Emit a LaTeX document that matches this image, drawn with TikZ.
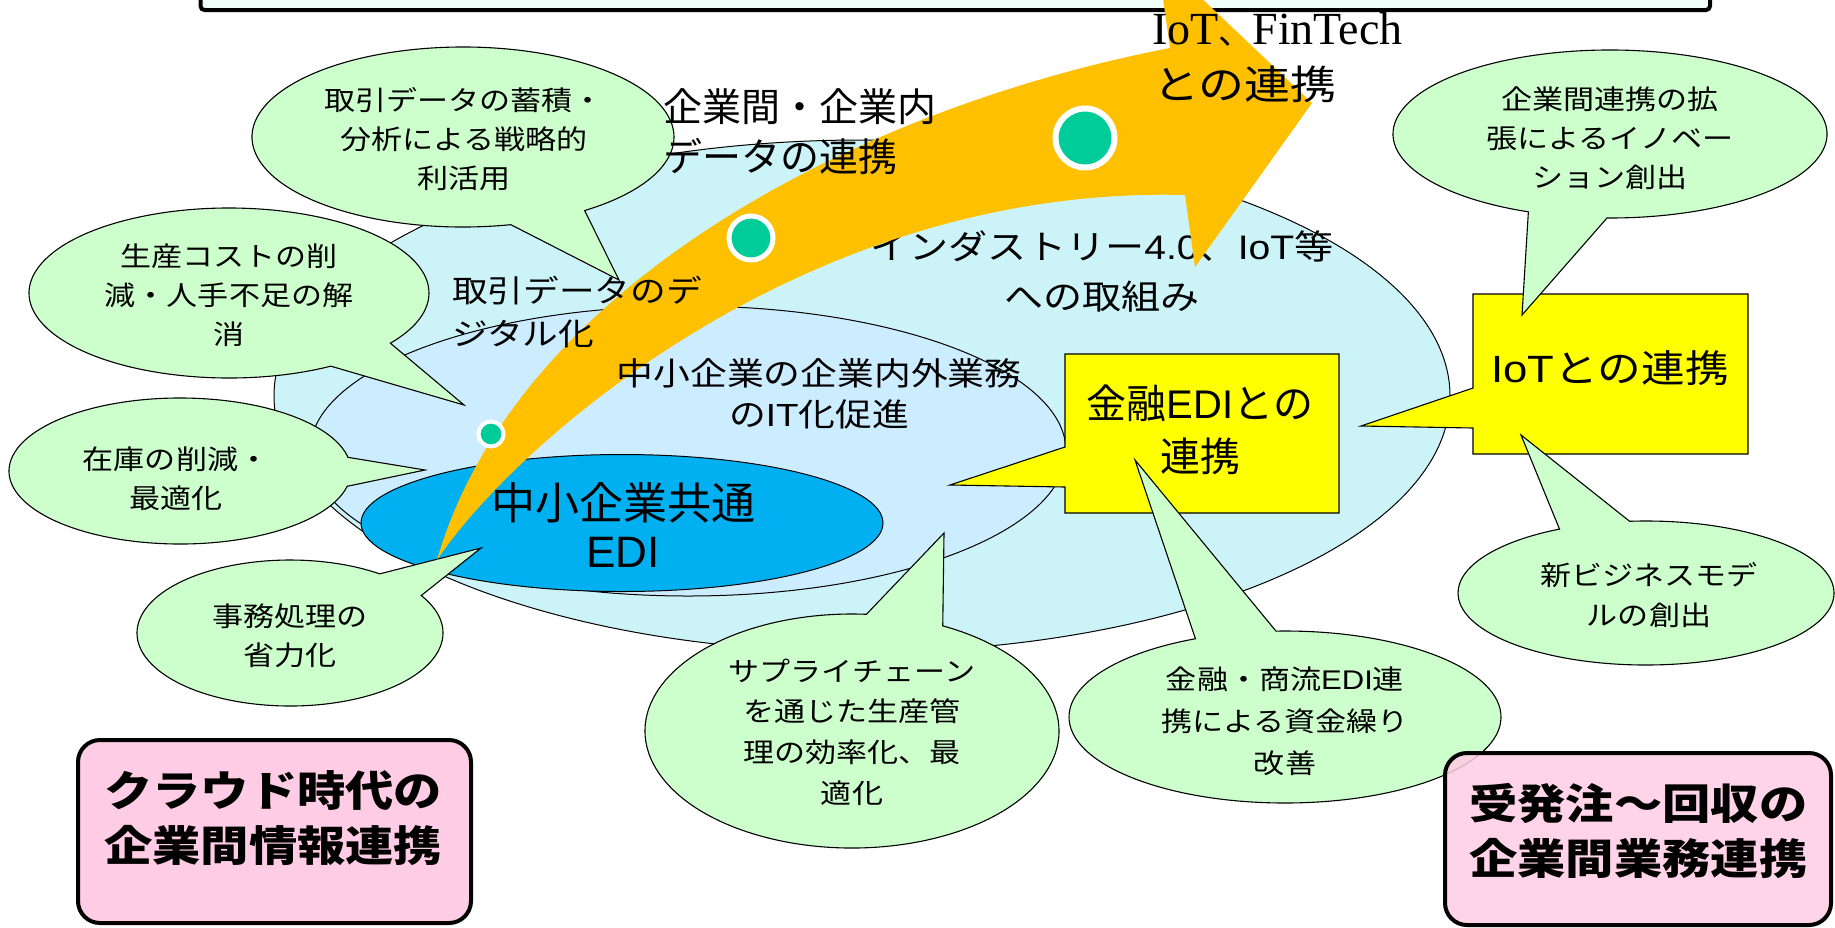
\documentclass[tikz,border=0pt]{standalone}
\usepackage{fontspec}
\setmainfont{Noto Sans CJK JP}[FakeStretch=1.15]
\newfontfamily\jpn{Noto Sans CJK JP}
\newfontfamily\las{Liberation Sans}[FakeStretch=1.15]
\newfontfamily\lan{Liberation Sans}
\newfontfamily\ser{Liberation Serif}
\usetikzlibrary{calc}
\definecolor{outerc}{RGB}{204,244,248}
\definecolor{midc}{RGB}{204,236,255}
\definecolor{edic}{RGB}{0,176,240}
\definecolor{bubc}{RGB}{204,255,204}
\definecolor{yelc}{RGB}{255,255,0}
\definecolor{pinkc}{RGB}{255,204,229}
\definecolor{arrc}{RGB}{255,192,0}
\definecolor{dotc}{RGB}{0,204,153}
\definecolor{topc}{RGB}{240,255,250}
\tikzset{
  ell/.style={draw=black, line width=1pt},
  bub/.style={draw=black, line width=1.1pt, fill=bubc},
  callout/.style={draw=black, line width=1.1pt, fill=yelc},
  pinkbox/.style={draw=black, line width=4pt, fill=pinkc, rounded corners=22pt},
  dotst/.style={fill=dotc, draw=white},
  lbl/.style={inner sep=0pt, align=center, text=black},
  bubtxt/.style={lbl, font=\fontsize{27}{39}\selectfont},
  pinktxt/.style={inner sep=0pt, align=left, anchor=west, font=\bfseries\fontsize{42}{55}\selectfont},
}
\newcommand\bubble[8]{\draw[bub] (#7,#8) -- ($(#1,#2)+(#5:#3 and #4)$) arc[start angle=#5,end angle=#6,x radius=#3,y radius=#4] -- cycle;}
\begin{document}
\begin{tikzpicture}[x=1pt,y=-1pt]
\useasboundingbox (0,0) rectangle (1835,927);
\fill[white] (0,0) rectangle (1835,927);
% top box
\draw[line width=4pt, fill=topc, rounded corners=4pt] (200.5,-40) rectangle (1710,10);
% ellipses
\draw[ell, fill=outerc] (862,396) ellipse[x radius=588, y radius=256];
\draw[ell, fill=midc] (688,451) ellipse[x radius=378, y radius=145];
\draw[ell, fill=edic] (622,523) ellipse[x radius=261, y radius=68.5];
% yellow callouts
\draw[callout] (1473,294) -- (1748,294) -- (1748,454) -- (1473,454) -- (1473,428) -- (1361,426) -- (1473,388) -- cycle;
\draw[callout] (1065,354) -- (1339,354) -- (1339,513) -- (1065,513) -- (1065,487) -- (950,485) -- (1065,447) -- cycle;
% bubbles
\bubble{463}{137}{211}{90}{76.9}{414.8}{619}{280}
\bubble{229}{293}{200}{85}{59.4}{396.2}{464}{405}
\bubble{180}{471}{171}{73}{12.1}{349.2}{425}{470}
\bubble{290}{633}{153}{73}{-30.9}{305.9}{481}{548}
\bubble{852}{731}{207}{117}{-64}{274}{944}{533}
\bubble{1285}{717}{216}{86}{267.6}{605.5}{1135}{460}
\bubble{1646}{593}{188}{72}{265}{602.6}{1521}{435}
\bubble{1610}{134}{217}{84}{112.1}{450.8}{1522}{315}
% text under the arrow
\node[lbl, font=\fontsize{34}{50}\selectfont] (tInd) at (1102,272) {インダストリー{\las 4.0}、{\las IoT}等\\への取組み};
% arrow
\fill[arrc] (437,560) .. controls (515,290) and (850,110) .. (1170,48)
  -- (1157,-44) -- (1312,103) -- (1195,267) -- (1185,195)
  .. controls (800,185) and (510,450) .. (437,560) -- cycle;
% dots
\draw[dotst, line width=4pt] (491,434) circle[radius=12.5];
\draw[dotst, line width=5pt] (751,238) circle[radius=22];
\draw[dotst, line width=6pt] (1085,138) circle[radius=29.5];
% bubble texts
\node[bubtxt] (tA) at (464,139) {取引データの蓄積・\\分析による戦略的\\利活用};
\node[bubtxt] (tB) at (229,295) {生産コストの削\\減・人手不足の解\\消};
\node[bubtxt] (tC) at (176,479) {在庫の削減・\\最適化};
\node[bubtxt] (tD) at (290,636) {事務処理の\\省力化};
\node[bubtxt, font=\fontsize{27}{40.7}\selectfont] (tE) at (852,732) {サプライチェーン\\を通じた生産管\\理の効率化、最\\適化};
\node[bubtxt, font=\fontsize{27}{42}\selectfont] (tF) at (1285,721) {金融・商流{\las EDI}連\\携による資金繰り\\改善};
\node[bubtxt, font=\fontsize{27}{40}\selectfont] (tG) at (1649,595) {新ビジネスモデ\\ルの創出};
\node[bubtxt] (tH) at (1610,138) {企業間連携の拡\\張によるイノベー\\ション創出};
% other texts
\node[lbl, font=\fontsize{38}{46}\selectfont] (tIoT) at (1610,368) {{\las IoT}との連携};
\node[lbl, font=\jpn\fontsize{40}{53}\selectfont] (tKin) at (1200,430) {金融{\lan EDI}との\\連携};
\node[lbl, font=\jpn\fontsize{44}{48}\selectfont] (tEDI) at (623,525) {中小企業共通\\{\lan EDI}};
\node[lbl, font=\fontsize{32}{41}\selectfont] (tMid) at (819,394) {中小企業の企業内外業務\\の{\las IT}化促進};
\node[lbl, align=left, anchor=west, font=\fontsize{31}{43}\selectfont] (tDig) at (452,312) {取引データのデ\\ジタル化};
\node[lbl, align=left, anchor=west, font=\jpn\fontsize{39}{50}\selectfont] (tCorp) at (663,132) {企業間・企業内\\データの連携};
\node[lbl, anchor=base west, font=\ser\fontsize{46}{50}\selectfont] (tFin) at (1152,44) {IoT{\jpn\fontsize{34}{40}\selectfont 、}FinTech};
\node[lbl, anchor=west, font=\fontsize{40}{48}\selectfont] (tFin2) at (1153,84) {との連携};
% pink boxes
\draw[pinkbox] (78,740) rectangle (471,923);
\node[pinktxt] (tK) at (104,818) {クラウド時代の\\企業間情報連携};
\draw[pinkbox, fill opacity=0.85] (1445,753) rectangle (1831,925);
\node[pinktxt] (tL) at (1469,831) {受発注～回収の\\企業間業務連携};
\end{tikzpicture}
\end{document}
